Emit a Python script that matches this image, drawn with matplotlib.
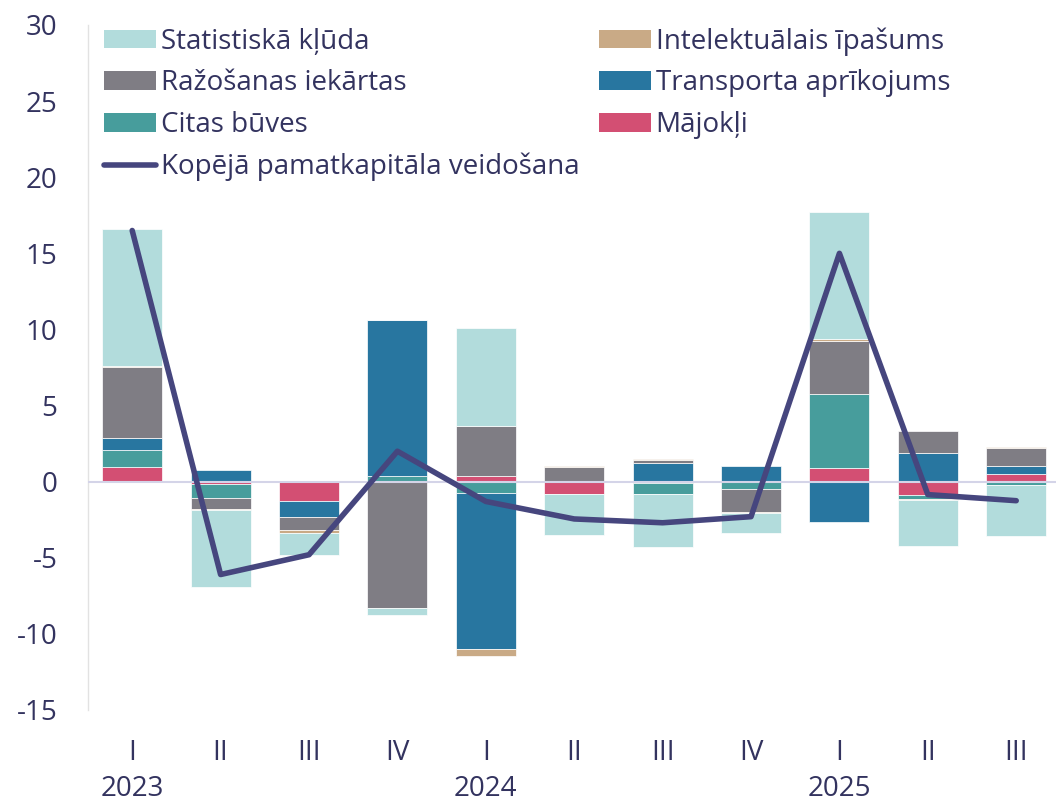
import numpy as np
import matplotlib
matplotlib.use("Agg")
import matplotlib.pyplot as plt
import matplotlib.transforms as mtransforms
from matplotlib.patches import Patch
from matplotlib.lines import Line2D

plt.rcParams['font.family'] = ['Open Sans', 'DejaVu Sans']
plt.rcParams['axes.unicode_minus'] = False

# Data (percentage points)
quarters = ["I", "II", "III", "IV", "I", "II", "III", "IV", "I", "II", "III"]
years = ["2023", "2024", "2025"]
year_pos = [0, 4, 8]

majokli = [0.95, -0.15, -1.3, 0.0, 0.4, -0.8, -0.1, 0.0, 0.9, -0.9, 0.5]
citas = [1.15, -0.9, 0.0, 0.35, -0.75, 0.0, -0.7, -0.5, 4.85, -0.25, -0.25]
transport = [0.8, 0.75, -1.05, 10.3, -10.25, 0.0, 1.25, 1.0, -2.65, 1.9, 0.5]
razosanas = [4.65, -0.75, -0.8, -8.3, 3.25, 0.95, 0.15, -1.5, 3.5, 1.45, 1.2]
intel = [0.05, -0.05, -0.2, 0.0, -0.45, 0.05, 0.1, -0.05, 0.15, -0.05, 0.1]
stat = [9.0, -5.1, -1.45, -0.45, 6.45, -2.7, -3.5, -1.35, 8.3, -3.0, -3.35]
total = [16.5, -6.1, -4.8, 2.0, -1.3, -2.45, -2.7, -2.3, 15.0, -0.85, -1.25]

series = [
    ("Mājokļi", majokli, "#d34f73"),
    ("Citas būves", citas, "#479d9c"),
    ("Transporta aprīkojums", transport, "#2876a0"),
    ("Ražošanas iekārtas", razosanas, "#7f7d84"),
    ("Intelektuālais īpašums", intel, "#c9aa86"),
    ("Statistiskā kļūda", stat, "#b2dcdc"),
]
line_color = "#46467e"
text_color = "#33335f"
fs = 20

fig = plt.figure(figsize=(10.56, 8.05), dpi=100)
ax = fig.add_axes([88/1056, 1 - 710/805, 1 - 88/1056, (710 - 25)/805])

x = np.arange(len(quarters))
pos_bottom = np.zeros(len(x))
neg_bottom = np.zeros(len(x))
handles = {}
for name, vals, col in series:
    v = np.array(vals)
    bottom = np.where(v >= 0, pos_bottom, neg_bottom)
    ax.bar(x, v, 0.68, bottom=bottom, color=col, edgecolor="white", linewidth=0.5, zorder=2)
    pos_bottom += np.where(v > 0, v, 0)
    neg_bottom += np.where(v < 0, v, 0)
    handles[name] = Patch(facecolor=col, edgecolor="none")

ax.axhline(0, color="#d4d4e8", linewidth=1.5, zorder=3)
ax.plot(x, total, color=line_color, linewidth=4, solid_capstyle="round", zorder=4)
handles["Kopējā pamatkapitāla veidošana"] = Line2D([0], [0], color=line_color, linewidth=4, solid_capstyle="round")

ax.set_xlim(-0.5, 10.45)
ax.set_ylim(-15, 30)
ax.set_yticks(range(-15, 31, 5))
ax.set_xticks(x)
ax.set_xticklabels(quarters)
ax.tick_params(axis="both", length=0, labelsize=fs, colors=text_color)
ax.tick_params(axis="y", pad=22)
ax.tick_params(axis="x", pad=21)

for s in ["top", "right", "bottom"]:
    ax.spines[s].set_visible(False)
ax.spines["left"].set_color("#e2e2e2")
ax.spines["left"].set_linewidth(1)

trans = mtransforms.blended_transform_factory(ax.transData, ax.transAxes)
for yr, p in zip(years, year_pos):
    ax.text(p, -0.115, yr, transform=trans, ha="center", va="center", fontsize=fs, color=text_color)

order = ["Statistiskā kļūda", "Ražošanas iekārtas", "Citas būves", "Kopējā pamatkapitāla veidošana",
         "Intelektuālais īpašums", "Transporta aprīkojums", "Mājokļi"]
leg = ax.legend([handles[k] for k in order], order, ncol=2, loc="upper left",
                bbox_to_anchor=(-0.004, 1.025), frameon=False, fontsize=fs,
                handlelength=1.87, handleheight=0.65, handletextpad=0.18,
                columnspacing=0.7, labelspacing=0.49, borderaxespad=0.3)
for t in leg.get_texts():
    t.set_color(text_color)

fig.savefig("out.png", dpi=100)
